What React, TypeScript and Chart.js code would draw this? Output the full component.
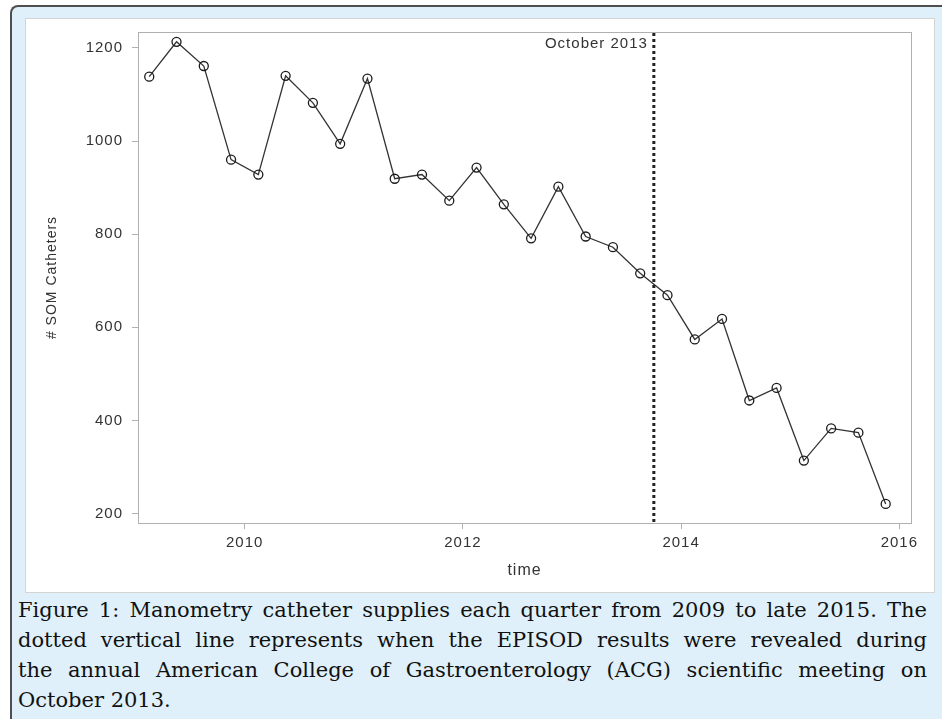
import React, { useEffect, useRef } from "react";
import { Chart, registerables } from "chart.js";

Chart.register(...registerables);

// ---- data ----
const quarterTimes = [
  2009.125, 2009.375, 2009.625, 2009.875,
  2010.125, 2010.375, 2010.625, 2010.875,
  2011.125, 2011.375, 2011.625, 2011.875,
  2012.125, 2012.375, 2012.625, 2012.875,
  2013.125, 2013.375, 2013.625, 2013.875,
  2014.125, 2014.375, 2014.625, 2014.875,
  2015.125, 2015.375, 2015.625, 2015.875,
];
const catheterCounts = [
  1138, 1213, 1161, 960,
  928, 1140, 1082, 994,
  1134, 919, 928, 872,
  943, 864, 791, 902,
  795, 772, 716, 669,
  574, 618, 443, 470,
  314, 383, 374, 221,
];
const xTickValues = [2010, 2012, 2014, 2016];
const yTickValues = [200, 400, 600, 800, 1000, 1200];
const eventTime = 2013.75;
const eventLabel = "October 2013";
const xAxisTitle = "time";
const yAxisTitle = "# SOM Catheters";
const captionLines = [
  "Figure 1: Manometry catheter supplies each quarter from 2009 to late 2015. The",
  "dotted vertical line represents when the EPISOD results were revealed during",
  "the annual American College of Gastroenterology (ACG) scientific meeting on",
  "October 2013.",
];

const SANS = "'Liberation Sans', Arial, sans-serif";
const AXIS_GRAY = "#b0b0b0";
const TEXT = "#333333";

const framePlugin = {
  id: "frameAndEvent",
  beforeDraw(chart: any) {
    try {
      chart.ctx.letterSpacing = "1px";
    } catch (e) {}
  },
  afterDatasetsDraw(chart: any) {
    const { ctx, chartArea, scales } = chart;
    const { left, right, top, bottom } = chartArea;
    ctx.save();
    ctx.letterSpacing = "0px";
    ctx.strokeStyle = AXIS_GRAY;
    ctx.lineWidth = 1;
    ctx.strokeRect(Math.round(left) + 0.5, Math.round(top) + 0.5, Math.round(right - left), Math.round(bottom - top));
    const ex = scales.x.getPixelForValue(eventTime);
    ctx.strokeStyle = "#222222";
    ctx.lineWidth = 3;
    ctx.setLineDash([3, 3]);
    ctx.beginPath();
    ctx.moveTo(ex, top + 1);
    ctx.lineTo(ex, bottom);
    ctx.stroke();
    ctx.setLineDash([]);
    ctx.letterSpacing = "1px";
    ctx.fillStyle = TEXT;
    ctx.font = `15px ${SANS}`;
    ctx.textAlign = "right";
    ctx.textBaseline = "middle";
    ctx.fillText(eventLabel, ex - 6, top + 12);
    ctx.restore();
  },
};

export default function App() {
  const ref = useRef<HTMLCanvasElement>(null);

  useEffect(() => {
    const points = quarterTimes.map((t, i) => ({ x: t, y: catheterCounts[i] }));
    const tickFont = { family: SANS, size: 15 };
    const chart = new Chart(ref.current as HTMLCanvasElement, {
      type: "line",
      data: {
        datasets: [
          {
            data: points,
            borderColor: "#333333",
            borderWidth: 1.3,
            pointRadius: 4.5,
            pointHoverRadius: 4.5,
            pointBorderWidth: 1.3,
            pointBorderColor: "#1a1a1a",
            pointBackgroundColor: "rgba(0,0,0,0)",
            tension: 0,
            fill: false,
          },
        ],
      },
      options: {
        animation: false,
        responsive: false,
        devicePixelRatio: 1,
        events: [],
        layout: { padding: { left: 0, top: 32, right: 31, bottom: 0 } },
        plugins: {
          legend: { display: false },
          tooltip: { enabled: false },
          title: { display: false },
        },
        scales: {
          x: {
            type: "linear",
            min: 2009.022,
            max: 2016.107,
            afterBuildTicks: (scale: any) => {
              scale.ticks = xTickValues.map((v) => ({ value: v }));
            },
            afterFit: (scale: any) => {
              scale.height = 70;
            },
            ticks: {
              autoSkip: false,
              maxRotation: 0,
              color: TEXT,
              font: tickFont,
              padding: 5,
              callback: (v: any) => String(v),
            },
            grid: {
              display: true,
              drawOnChartArea: false,
              drawTicks: true,
              tickLength: 6,
              color: AXIS_GRAY,
            },
            border: { display: true, color: AXIS_GRAY },
            title: {
              display: true,
              text: xAxisTitle,
              color: TEXT,
              font: { family: SANS, size: 16 },
              padding: { top: 0, bottom: 13 },
            },
          },
          y: {
            type: "linear",
            min: 180,
            max: 1234,
            afterBuildTicks: (scale: any) => {
              scale.ticks = yTickValues.map((v) => ({ value: v }));
            },
            afterFit: (scale: any) => {
              scale.width = 138;
            },
            ticks: {
              autoSkip: false,
              color: TEXT,
              font: tickFont,
              padding: 9,
              callback: (v: any) => String(v),
            },
            grid: {
              display: true,
              drawOnChartArea: false,
              drawTicks: true,
              tickLength: 6,
              color: AXIS_GRAY,
            },
            border: { display: true, color: AXIS_GRAY },
            title: {
              display: true,
              text: yAxisTitle,
              color: TEXT,
              font: { family: SANS, size: 14 },
              padding: { top: 44, bottom: 0 },
            },
          },
        },
      },
      plugins: [framePlugin],
    } as any);
    return () => chart.destroy();
  }, []);

  return (
    <div
      style={{
        position: "fixed",
        left: 0,
        top: 0,
        width: 942,
        height: 719,
        overflow: "hidden",
        background: "#ffffff",
      }}
    >
      <div
        style={{
          position: "absolute",
          left: 10,
          top: 5,
          width: 960,
          height: 740,
          boxSizing: "border-box",
          borderTop: "2px solid #4f4f4f",
          borderLeft: "2px solid #4f4f4f",
          borderTopLeftRadius: 8,
          background: "#dff0fa",
        }}
      />
      <div
        style={{
          position: "absolute",
          left: 25,
          top: 18,
          width: 910,
          height: 575,
          boxSizing: "border-box",
          border: "1px solid #d4d4d4",
          background: "#ffffff",
        }}
      />
      <canvas
        ref={ref}
        width={942}
        height={593}
        style={{ position: "absolute", left: 0, top: 0, width: 942, height: 593 }}
      />
      <div
        style={{
          position: "absolute",
          left: 18,
          top: 595,
          width: 909,
          fontFamily: "'DejaVu Serif', 'Liberation Serif', serif",
          fontSize: 21,
          lineHeight: "30px",
          color: "#111111",
        }}
      >
        {captionLines.map((line, i) => (
          <div
            key={i}
            style={{
              textAlign: i < captionLines.length - 1 ? "justify" : "left",
              textAlignLast: i < captionLines.length - 1 ? "justify" : "left",
              whiteSpace: "nowrap",
            }}
          >
            {line}
          </div>
        ))}
      </div>
    </div>
  );
}
